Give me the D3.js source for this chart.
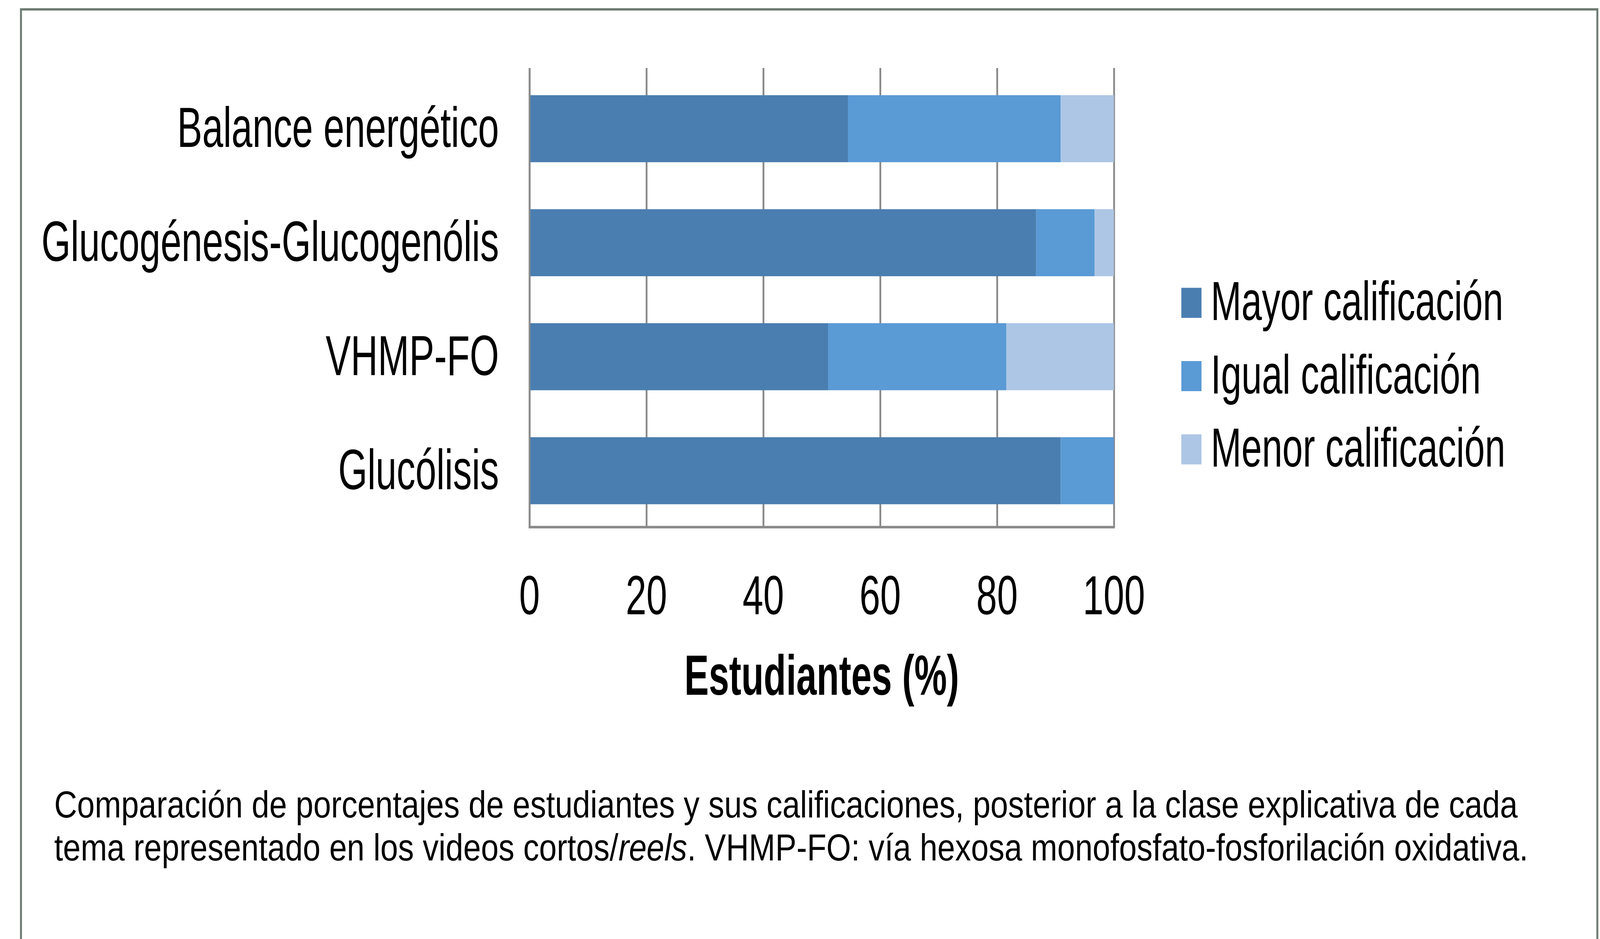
<!DOCTYPE html>
<html lang="es">
<head>
	<meta charset="UTF-8">
	<title>Estudiantes (%)</title>
	<style>
		html, body { margin: 0; padding: 0; background: #fff; width: 100%; height: 100%; overflow: hidden; }
		svg { display: block; }
		text { font-family: "Liberation Sans", Arial, sans-serif; fill: #000; }
	</style>
</head>
<body>
	<script src="https://d3js.org/d3.v7.min.js"></script>
	<script type="text/javascript">
		// datos
		var categorias = ["Balance energético", "Glucogénesis-Glucogenólis", "VHMP-FO", "Glucólisis"];
		var series = ["Mayor calificación", "Igual calificación", "Menor calificación"];
		var mayor = [54.5, 86.7, 51.1, 90.9];
		var igual = [36.4, 10.0, 30.5, 9.1];
		var menor = [9.1, 3.3, 18.4, 0];
		var ticksX = [0, 20, 40, 60, 80, 100];
		var colores = ["#4a7eb0", "#5a9ad5", "#adc6e5"];

		var width = 4842;
		var height = 2403;
		var plot = {left: 1602.5, right: 3371, top: 174, bottom: 1349};
		var squeeze = 0.79; // texto estrecho del original

		// viewBox que llena toda la ventana
		var svg = d3.select("body").append("svg")
			.attr("width", "100%").attr("height", "100%")
			.attr("viewBox", "0 0 " + width + " " + height)
			.attr("preserveAspectRatio", "none");

		svg.append("rect").attr("width", width).attr("height", height).attr("fill", "#fff");

		// marco
		svg.append("rect")
			.attr("x", 63.5).attr("y", 24)
			.attr("width", 4834 - 63.5).attr("height", 2600)
			.attr("fill", "none")
			.attr("stroke", "#6f7c73")
			.attr("stroke-width", 6);

		var xScale = d3.scaleLinear().domain([0, 100]).range([plot.left, plot.right]);
		var yScale = d3.scaleBand().domain(categorias).range([plot.top + 7, plot.bottom + 4])
			.paddingInner(0.412).paddingOuter(0.2145);

		// rejilla vertical
		var grid = svg.append("g")
			.attr("transform", "translate(0," + plot.bottom + ")")
			.call(d3.axisBottom(xScale).tickValues(ticksX).tickSize(-(plot.bottom - plot.top)).tickFormat(""));
		grid.select(".domain").remove();
		grid.selectAll("line").attr("stroke", "#8a8a8a").attr("stroke-width", 5.5);

		// barras apiladas
		var filas = categorias.map(function(c, i) {
			return {cat: c, "Mayor calificación": mayor[i], "Igual calificación": igual[i], "Menor calificación": menor[i]};
		});
		var stack = d3.stack().keys(series)(filas);

		svg.append("g").selectAll("g")
			.data(stack)
			.enter()
			.append("g")
			.attr("fill", function(d, i) { return colores[i]; })
			.selectAll("rect")
			.data(function(d) { return d; })
			.enter()
			.append("rect")
			.attr("x", function(d) { return xScale(d[0]); })
			.attr("y", function(d) { return yScale(d.data.cat); })
			.attr("width", function(d) { return xScale(d[1]) - xScale(d[0]); })
			.attr("height", yScale.bandwidth());

		// ejes
		svg.append("line")
			.attr("x1", plot.left).attr("x2", plot.left)
			.attr("y1", plot.top).attr("y2", plot.bottom + 3)
			.attr("stroke", "#8a8a8a").attr("stroke-width", 5);
		svg.append("line")
			.attr("x1", plot.left - 2.5).attr("x2", plot.right + 3)
			.attr("y1", plot.bottom).attr("y2", plot.bottom)
			.attr("stroke", "#8a8a8a").attr("stroke-width", 6.5);

		// etiquetas del eje x
		svg.append("g").selectAll("text")
			.data(ticksX)
			.enter()
			.append("text")
			.attr("transform", function(d) { return "translate(" + xScale(d) + ",1572) scale(0.8,1)"; })
			.attr("text-anchor", "middle")
			.attr("font-size", 141)
			.text(function(d) { return d; });

		svg.append("text")
			.attr("transform", "translate(" + (plot.left + plot.right) / 2 + ",1778) scale(0.77,1)")
			.attr("text-anchor", "middle")
			.attr("font-size", 144)
			.attr("font-weight", "bold")
			.text("Estudiantes (%)");

		// etiquetas de categoría
		svg.append("g").selectAll("text")
			.data(categorias)
			.enter()
			.append("text")
			.attr("transform", function(d) {
				return "translate(1510," + (yScale(d) + yScale.bandwidth() / 2 + 47) + ") scale(" + squeeze + ",1)";
			})
			.attr("text-anchor", "end")
			.attr("font-size", 144)
			.text(function(d) { return d; });

		// leyenda
		var leyenda = svg.append("g").selectAll("g")
			.data(series)
			.enter()
			.append("g")
			.attr("transform", function(d, i) { return "translate(3575," + (775 + i * 187.5) + ")"; });
		leyenda.append("rect")
			.attr("x", 0).attr("y", -38.5)
			.attr("width", 61).attr("height", 77)
			.attr("fill", function(d, i) { return colores[i]; });
		leyenda.append("text")
			.attr("transform", "translate(89,44) scale(" + squeeze + ",1)")
			.attr("font-size", 141)
			.text(function(d) { return d; });

		// pie de figura
		var pie = svg.append("g").attr("font-size", 96);
		pie.append("text")
			.attr("x", 164).attr("y", 2092)
			.text("Comparación de porcentajes de estudiantes y sus calificaciones, posterior a la clase explicativa de cada");
		var l2 = pie.append("text").attr("x", 164).attr("y", 2202);
		l2.append("tspan").text("tema representado en los videos cortos/");
		l2.append("tspan").attr("font-style", "italic").text("reels");
		l2.append("tspan").text(". VHMP-FO: vía hexosa monofosfato-fosforilación oxidativa.");
	</script>
</body>
</html>
